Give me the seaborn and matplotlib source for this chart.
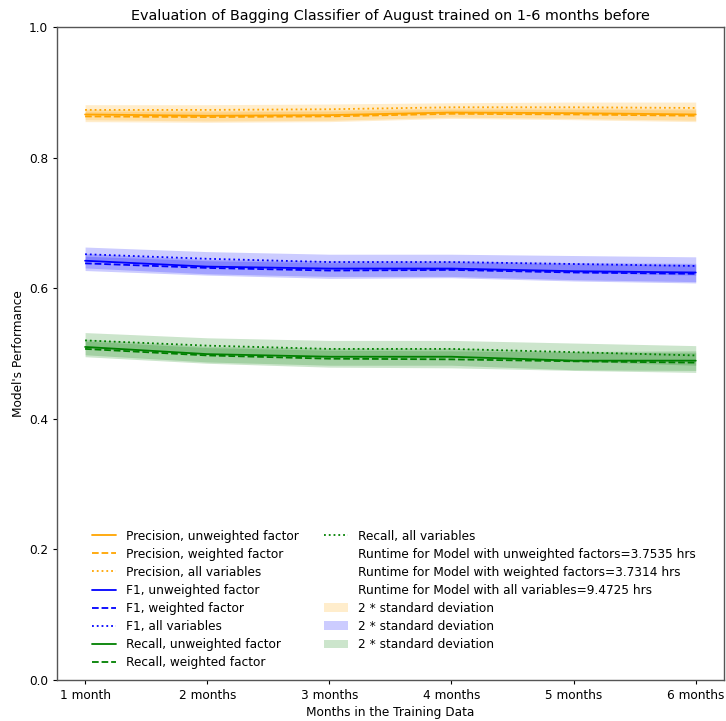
import matplotlib
matplotlib.use("Agg")
import matplotlib.pyplot as plt
import seaborn as sns
import numpy as np
import pandas as pd

months = [1, 2, 3, 4, 5, 6]
month_labels = ["1 month", "2 months", "3 months", "4 months", "5 months", "6 months"]

prec_unw = [0.866, 0.864, 0.865, 0.869, 0.868, 0.866]
prec_w = [0.863, 0.862, 0.863, 0.867, 0.866, 0.864]
prec_all = [0.873, 0.873, 0.874, 0.877, 0.877, 0.876]

f1_unw = [0.642, 0.633, 0.630, 0.630, 0.626, 0.624]
f1_w = [0.638, 0.631, 0.627, 0.628, 0.624, 0.622]
f1_all = [0.652, 0.645, 0.640, 0.640, 0.637, 0.634]

rec_unw = [0.510, 0.499, 0.495, 0.495, 0.489, 0.489]
rec_w = [0.507, 0.497, 0.492, 0.491, 0.488, 0.486]
rec_all = [0.520, 0.512, 0.507, 0.507, 0.502, 0.497]

prec_std = [0.008, 0.008, 0.008, 0.007, 0.008, 0.009]
f1_std = [0.011, 0.011, 0.012, 0.012, 0.013, 0.014]
rec_std = [0.012, 0.012, 0.013, 0.013, 0.014, 0.015]

runtime_labels = [
    "Runtime for Model with unweighted factors=3.7535 hrs",
    "Runtime for Model with weighted factors=3.7314 hrs",
    "Runtime for Model with all variables=9.4725 hrs",
]

sns.set_style("ticks", {"axes.edgecolor": "#555555", "text.color": "black",
                        "axes.labelcolor": "black", "xtick.color": "black",
                        "ytick.color": "black"})
plt.rcParams['font.family'] = ['DejaVu Sans']
plt.rcParams['font.size'] = 8.7
plt.rcParams['xtick.major.size'] = 3
plt.rcParams['ytick.major.size'] = 3
plt.rcParams['xtick.major.width'] = 0.8
plt.rcParams['ytick.major.width'] = 0.8
plt.rcParams['axes.linewidth'] = 1.0

fig = plt.figure(figsize=(7.26, 7.21), dpi=100)
ax = fig.add_axes([0.0785, 0.0569, 0.9185, 0.9057])

metrics = [
    ("Precision", "orange", prec_unw, prec_w, prec_all, prec_std),
    ("F1", "blue", f1_unw, f1_w, f1_all, f1_std),
    ("Recall", "green", rec_unw, rec_w, rec_all, rec_std),
]

for name, color, unw, w, al, sd in metrics:
    for vals, ls, lab in [(unw, "-", "unweighted factor"), (w, "--", "weighted factor"), (al, ":", "all variables")]:
        sns.lineplot(x=months, y=vals, color=color, linestyle=ls, linewidth=1.3,
                     label=f"{name}, {lab}", ax=ax)

for lab in runtime_labels:
    ax.plot([], [], ' ', label=lab)

for name, color, unw, w, al, sd in metrics:
    first = True
    for vals in (unw, w, al):
        v = np.array(vals)
        s = np.array(sd)
        ax.fill_between(months, v - s, v + s, color=color, alpha=0.2, linewidth=0,
                        label="2 * standard deviation" if first else "_nolegend_")
        first = False

ax.set_ylim(0, 1.0)
ax.set_yticks([0.0, 0.2, 0.4, 0.6, 0.8, 1.0])
ax.set_xticks(months)
ax.set_xticklabels(month_labels)
ax.set_xlim(0.77, 6.23)
ax.set_xlabel("Months in the Training Data", labelpad=3)
ax.set_ylabel("Model's Performance", labelpad=3)
ax.set_title("Evaluation of Bagging Classifier of August trained on 1-6 months before",
             fontsize=10.4, pad=5)
ax.legend(loc="lower left", ncol=2, frameon=False, bbox_to_anchor=(0.036, 0.0),
          handlelength=2.0, columnspacing=2.1, labelspacing=0.42)

fig.savefig("out.png", dpi=100)
